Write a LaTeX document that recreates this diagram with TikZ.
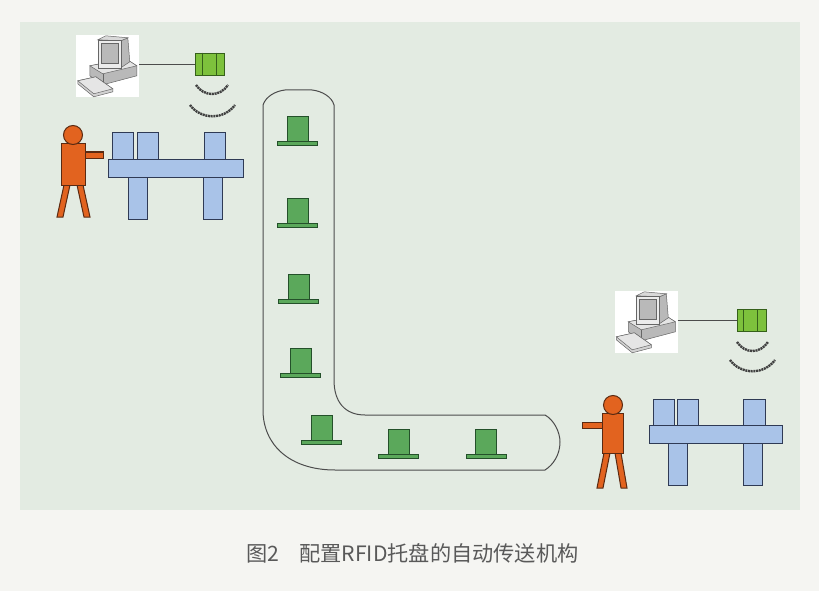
\documentclass[tikz,border=0pt]{standalone}
\usepackage{fontspec}
\newfontfamily\cjk{Noto Sans CJK SC}
\usetikzlibrary{positioning}

\definecolor{paper}{HTML}{F5F5F2}
\definecolor{panel}{HTML}{E3EBE2}
\definecolor{worker}{HTML}{E2631F}
\definecolor{workerline}{HTML}{5A2A12}
\definecolor{bench}{HTML}{A9C3E8}
\definecolor{benchline}{HTML}{2F3A55}
\definecolor{tray}{HTML}{5BA85B}
\definecolor{trayline}{HTML}{24502A}
\definecolor{reader}{HTML}{7DC13C}
\definecolor{readerline}{HTML}{35601A}

\tikzset{
    person/.style={fill=worker, draw=workerline, line width=1pt},
    table/.style={fill=bench, draw=benchline, line width=1pt},
    pallet/.style={fill=tray, draw=trayline, line width=1pt},
    wave/.style={draw=black!75, line width=2.4pt, dash pattern=on 2pt off 0.7pt},
    rfid/.style={draw=readerline, fill=reader, minimum width=29pt, minimum height=22pt, inner sep=0pt, line width=0.8pt},
    pcbox/.style={fill=white, minimum width=63pt, minimum height=62pt, inner sep=0pt},
}

% one tray: box centre x, top of the base plate y
\newcommand{\tray}[2]{%
    \draw[pallet] (#1-10.5, #2-25) rectangle (#1+10.5, #2);
    \draw[pallet] (#1-20, #2) rectangle (#1+20, #2+4);
}

% desktop computer drawn inside its white square
\newcommand{\desktop}[1]{%
    \begin{scope}[shift={(#1.north west)}, draw=black!60, line width=0.5pt]
        \filldraw[fill=gray!55] (14,31) -- (50,24) -- (61,31) -- (61,41) -- (27,50) -- (14,41) -- cycle;
        \filldraw[fill=gray!20] (14,31) -- (50,24) -- (61,31) -- (27,39) -- cycle;
        \draw (27,39) -- (27,50);
        \filldraw[fill=gray!55] (45,6) -- (52,3) -- (54,27) -- (45,33) -- cycle;
        \filldraw[fill=gray!30] (22,5) -- (30,1) -- (52,3) -- (45,6) -- cycle;
        \filldraw[fill=gray!15] (22,5) rectangle (45,33);
        \filldraw[fill=gray!55] (25,8) rectangle (42,28);
        \filldraw[fill=gray!35] (2,46) -- (20,42) -- (37,54) -- (37,57) -- (18,62) -- (2,49) -- cycle;
        \filldraw[fill=gray!20] (2,46) -- (20,42) -- (37,54) -- (18,59) -- cycle;
    \end{scope}
}

\begin{document}
\begin{tikzpicture}[x=1pt, y=-1pt]
    \useasboundingbox[fill=paper] (0,0) rectangle (819,591);
    \fill[panel] (20,22) rectangle (800,510);

    % conveyor belt
    \draw[black!70, line width=1pt]
        (263,105) .. controls (266,96) and (276,91) .. (285,90) -- (312,90)
        .. controls (322,91) and (332,97) .. (334,105) -- (334,380)
        .. controls (334,402) and (345,415) .. (365,415) -- (545,415)
        .. controls (554,420) and (560,432) .. (560,442)
        .. controls (560,455) and (553,465) .. (545,470) -- (335,470)
        .. controls (290,470) and (263,445) .. (263,410) -- cycle;
    \tray{297.5}{142}
    \tray{297.5}{223}
    \tray{298.5}{299}
    \tray{300.5}{373}
    \tray{321.5}{440}
    \tray{398.5}{454}
    \tray{486}{454}

    % left station
    \node[pcbox] (pcL) at (107.5,66) {};
    \desktop{pcL}
    \node[rfid] (readerL) at (210,64) {};
    \draw[readerline] ([xshift=-8pt]readerL.north) -- ([xshift=-8pt]readerL.south);
    \draw[readerline] ([xshift=6pt]readerL.north) -- ([xshift=6pt]readerL.south);
    \draw[black!70, line width=0.8pt] (pcL.east |- readerL) -- (readerL.west);
    \draw[wave] (196,85) .. controls (204,97) and (220,97) .. (228,85);
    \draw[wave] (190,105) .. controls (201,120) and (224,120) .. (235,105);

    \draw[person] (64,185) -- (70,185) -- (63,217) -- (57,217) -- cycle;
    \draw[person] (77,185) -- (83,185) -- (90,217) -- (84,217) -- cycle;
    \draw[person] (85,152) rectangle (103,158);
    \draw[person] (61,144) rectangle (85,185);
    \draw[person] (73,135) circle (9.5);

    \draw[table] (128,177) rectangle (147,219);
    \draw[table] (203,177) rectangle (222,219);
    \draw[table] (108,159) rectangle (243,177);
    \draw[table] (112,133) rectangle (133,159);
    \draw[table] (137,133) rectangle (158,159);
    \draw[table] (204,133) rectangle (225,159);

    % right station
    \node[pcbox] (pcR) at (646,322) {};
    \desktop{pcR}
    \node[rfid] (readerR) at (751.5,320.5) {};
    \draw[readerline] ([xshift=-8pt]readerR.north) -- ([xshift=-8pt]readerR.south);
    \draw[readerline] ([xshift=6pt]readerR.north) -- ([xshift=6pt]readerR.south);
    \draw[black!70, line width=0.8pt] (pcR.east |- readerR) -- (readerR.west);
    \draw[wave] (737,342) .. controls (745,354) and (760,354) .. (768,342);
    \draw[wave] (730,360) .. controls (741,375) and (764,375) .. (775,360);

    \draw[person] (604,453) -- (610,453) -- (603,488) -- (597,488) -- cycle;
    \draw[person] (615,453) -- (621,453) -- (627,488) -- (621,488) -- cycle;
    \draw[person] (582,422) rectangle (602,428);
    \draw[person] (602,413) rectangle (623,453);
    \draw[person] (613,405) circle (9.5);

    \draw[table] (668,443) rectangle (687,485);
    \draw[table] (743,443) rectangle (762,485);
    \draw[table] (649,425) rectangle (782,443);
    \draw[table] (653,399) rectangle (674,425);
    \draw[table] (677,399) rectangle (698,425);
    \draw[table] (743,399) rectangle (765,425);

    \node[font=\cjk\fontsize{21.2}{21}\selectfont, text=black!65, anchor=west, inner sep=0pt]
        (caption) at (246,553) {图2\hspace{0.95em}配置RFID托盘的自动传送机构};
\end{tikzpicture}
\end{document}
